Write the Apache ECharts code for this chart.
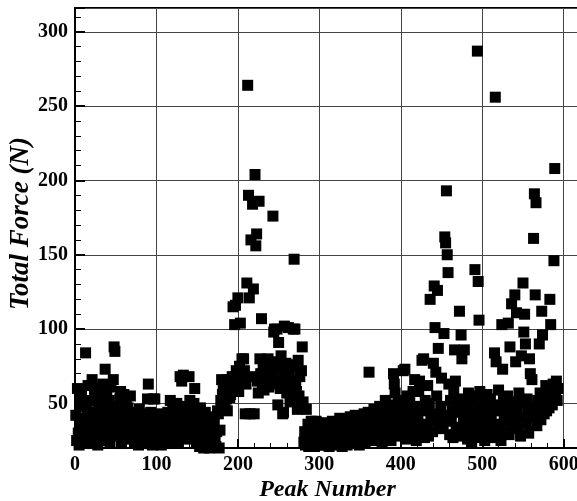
<!DOCTYPE html>
<html>
<meta charset="UTF-8">
<title>total-force</title>
<style type="text/css">
    html,
    body {
        margin: 0px;
        background: #fff;
    }

    #chart {
        width: 577px;
        height: 501px;
    }
</style>
<script src="https://cdn.jsdelivr.net/npm/echarts@6/dist/echarts.min.js"></script>

<body>
    <div id="chart"></div>
    <script>
        // peak numbers run from firstPeak upward, one value per peak
        const firstPeak = 1;
        const totalForce = [
            42, 25, 60, 30, 22, 48, 36, 55, 27, 40,
            33, 50, 84, 24, 45, 62, 28, 38, 52, 23,
            66, 35, 26, 57, 44, 30, 60, 22, 49, 37,
            54, 29, 41, 63, 25, 47, 73, 34, 58, 27,
            39, 52, 24, 61, 45, 31, 66, 88, 85, 36,
            28, 48, 42, 33, 53, 58, 23, 45, 38, 56,
            40, 26, 50, 35, 47, 29, 43, 55, 31, 38,
            30, 44, 24, 37, 27, 41, 33, 22, 46, 29,
            35, 26, 40, 23, 31, 43, 28, 38, 53, 63,
            34, 25, 44, 30, 22, 53, 36, 53, 27, 40,
            32, 24, 38, 28, 43, 22, 35, 30, 26, 41,
            29, 36, 23, 44, 31, 27, 52, 38, 25, 46,
            34, 47, 40, 28, 50, 37, 24, 43, 68, 33,
            65, 45, 69, 30, 38, 26, 48, 41, 35, 68,
            52, 32, 44, 27, 39, 50, 60, 34, 23, 42,
            29, 36, 21, 47, 33, 25, 40, 20, 31, 44,
            27, 22, 35, 38, 20, 30, 24, 41, 21, 33,
            38, 26, 21, 31, 45, 43, 20, 32, 52, 66,
            56, 59, 48, 51, 62, 53, 45, 66, 57, 54,
            56, 60, 68, 115, 64, 103, 116, 72, 61, 121,
            58, 75, 104, 66, 80, 70, 80, 72, 43, 63,
            131, 264, 190, 121, 43, 160, 68, 184, 127, 43,
            204, 156, 164, 65, 57, 186, 80, 70, 107, 62,
            74, 59, 67, 79, 65, 72, 80, 61, 68, 76,
            70, 63, 176, 98, 100, 66, 78, 100, 49, 91,
            73, 60, 82, 65, 43, 44, 102, 69, 77, 57,
            64, 101, 70, 51, 75, 63, 76, 100, 147, 100,
            65, 58, 46, 79, 55, 68, 49, 72, 88, 51,
            24, 31, 22, 46, 28, 36, 21, 33, 26, 38,
            23, 30, 35, 21, 27, 38, 25, 32, 22, 29,
            34, 24, 28, 37, 22, 31, 26, 35, 23, 29,
            36, 21, 27, 33, 25, 38, 22, 30, 34, 24,
            28, 37, 23, 32, 40, 26, 35, 21, 30, 38,
            25, 33, 39, 22, 29, 36, 27, 41, 24, 31,
            37, 23, 34, 42, 28, 25, 39, 31, 22, 35,
            29, 40, 26, 36, 43, 24, 33, 38, 27, 44,
            71, 30, 37, 25, 41, 34, 46, 28, 39, 32,
            43, 26, 36, 48, 31, 40, 24, 46, 35, 29,
            52, 38, 27, 44, 33, 49, 41, 25, 36, 47,
            70, 63, 57, 34, 45, 28, 52, 39, 30, 43,
            37, 50, 72, 31, 73, 42, 26, 55, 35, 46,
            51, 33, 44, 28, 58, 39, 66, 48, 25, 36,
            41, 58, 65, 30, 47, 79, 36, 80, 27, 52,
            34, 45, 62, 28, 50, 120, 38, 43, 31, 77,
            129, 101, 71, 55, 126, 87, 40, 33, 48, 67,
            42, 36, 97, 162, 158, 193, 150, 138, 63, 29,
            52, 38, 45, 27, 59, 86, 65, 34, 48, 31,
            44, 112, 53, 96, 80, 28, 39, 86, 50, 35,
            46, 26, 57, 33, 41, 52, 24, 37, 48, 30,
            140, 43, 55, 287, 132, 106, 58, 36, 27, 47,
            32, 50, 25, 44, 38, 56, 29, 41, 35, 53,
            40, 27, 48, 33, 84, 256, 78, 45, 30, 59,
            36, 49, 25, 103, 73, 53, 42, 31, 47, 38,
            55, 104, 29, 88, 44, 117, 35, 51, 39, 123,
            78, 111, 46, 33, 57, 40, 28, 82, 50, 131,
            98, 110, 90, 37, 53, 44, 30, 80, 70, 48,
            66, 41, 161, 191, 123, 185, 35, 52, 46, 90,
            57, 39, 112, 96, 48, 43, 55, 62, 45, 50,
            53, 47, 120, 103, 56, 49, 63, 146, 208, 58,
            65, 52, 60
        ];
        const xLabels = [0, 100, 200, 300, 400, 500, 600];
        const yLabels = [50, 100, 150, 200, 250, 300];

        const serif = '"Liberation Serif", "Times New Roman", serif';
        const labelStyle = { fontFamily: serif, fontWeight: 'bold', fontSize: 20, color: '#000' };

        const chart = echarts.init(document.querySelector('#chart'), null, { renderer: 'canvas' });

        const options = {
            animation: false,
            backgroundColor: '#fff',
            grid: {
                left: 75, top: 8, width: 505, height: 440,
                outerBoundsMode: 'none', containLabel: false,
                show: true, borderColor: '#000', borderWidth: 2
            },
            xAxis: [{
                type: 'value', min: 0, max: 620, interval: 100,
                name: 'Peak Number', nameLocation: 'middle', nameGap: 30, nameMoveOverlap: false,
                nameTextStyle: { fontFamily: serif, fontWeight: 'bold', fontStyle: 'italic', fontSize: 24, color: '#000' },
                axisLine: { lineStyle: { color: '#000', width: 2 } },
                axisTick: { inside: true, length: 9, lineStyle: { color: '#000', width: 2 } },
                axisLabel: Object.assign({ margin: 7, showMaxLabel: false,
                    formatter: v => xLabels.includes(v) ? String(v) : '' }, labelStyle),
                splitLine: { lineStyle: { color: '#444', width: 1 } }
            }, {
                // minor ticks
                type: 'value', min: 0, max: 620, interval: 20, position: 'bottom',
                axisLine: { show: false },
                axisTick: { inside: true, length: 5, lineStyle: { color: '#000', width: 1 } },
                axisLabel: { show: false },
                splitLine: { show: false }
            }],
            yAxis: [{
                type: 'value', min: 20, max: 316,
                name: 'Total Force (N)', nameLocation: 'middle', nameGap: 40, nameMoveOverlap: false,
                nameTextStyle: { fontFamily: serif, fontWeight: 'bold', fontStyle: 'italic', fontSize: 27, color: '#000',
                    padding: [0, 0, 0, 9] },
                axisLine: { lineStyle: { color: '#000', width: 2 } },
                axisTick: { inside: true, length: 10, lineStyle: { color: '#000', width: 2 } },
                axisLabel: Object.assign({ margin: 7,
                    formatter: v => yLabels.includes(v) ? String(v) : '' }, labelStyle),
                splitLine: { lineStyle: { color: '#444', width: 1 } }
            }, {
                type: 'value', min: 20, max: 316, interval: 10, position: 'left',
                axisLine: { show: false },
                axisTick: { inside: true, length: 6, lineStyle: { color: '#000', width: 1 } },
                axisLabel: { show: false },
                splitLine: { show: false }
            }],
            series: [{
                type: 'scatter',
                symbol: 'rect',
                symbolSize: 11,
                itemStyle: { color: '#000', opacity: 1 },
                data: totalForce.map((v, i) => [firstPeak + i, v])
            }]
        };
        chart.setOption(options);
    </script>
</body>

</html>
